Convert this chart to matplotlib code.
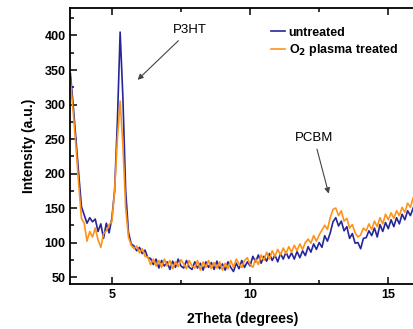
import numpy as np
import matplotlib
matplotlib.use("Agg")
import matplotlib.pyplot as plt

plt.rcParams['font.family'] = ['Liberation Sans', 'DejaVu Sans']

# 2Theta grid (degrees) and intensities
two_theta = np.round(np.arange(3.5, 15.95, 0.1), 1)

untreated = [
    345, 300, 250, 200, 152, 140, 128, 136, 130, 134,
    116, 127, 106, 128, 114, 135, 175, 275, 405, 310,
    175, 115, 98, 95, 88, 93, 84, 89, 78, 77,
    68, 76, 63, 74, 66, 72, 61, 73, 64, 76,
    66, 63, 74, 64, 61, 72, 63, 70, 60, 72,
    64, 71, 61, 73, 62, 69, 60, 72, 64, 58,
    70, 62, 74, 64, 72, 66, 80, 72, 82, 70,
    80, 73, 84, 74, 82, 72, 84, 76, 86, 77,
    85, 76, 87, 78, 88, 81, 94, 86, 98, 90,
    100, 93, 110, 102, 114, 130, 136, 124, 131, 117,
    123, 106, 113, 99, 100, 91, 106, 107, 117, 110,
    121, 108, 126, 116, 129, 120, 133, 123, 136, 127,
    141, 133, 146, 139, 150,
]

plasma = [
    335, 290, 240, 185, 135, 128, 102, 116, 108, 121,
    104, 93, 113, 117, 126, 130, 175, 250, 305, 240,
    150, 108, 96, 91, 95, 85, 91, 80, 79, 68,
    76, 66, 74, 64, 76, 66, 74, 62, 72, 65,
    75, 69, 62, 74, 66, 63, 74, 60, 72, 64,
    74, 62, 71, 63, 72, 60, 70, 62, 74, 64,
    76, 69, 64, 74, 78, 68, 64, 76, 68, 82,
    74, 86, 76, 88, 80, 90, 82, 92, 84, 94,
    86, 96, 88, 98, 90, 100, 105, 99, 110, 102,
    111, 118, 125, 119, 136, 148, 150, 139, 146, 131,
    135, 121, 126, 114, 108, 111, 121, 117, 127, 119,
    131, 123, 136, 127, 141, 133, 143, 135, 146, 139,
    151, 144, 157, 151, 165,
]

fig = plt.figure(figsize=(4.14, 3.29), dpi=100)
ax = fig.add_axes([0.170, 0.137, 0.830, 0.839])

ax.plot(two_theta, untreated, color='#26269a', lw=1.2, label='untreated')
ax.plot(two_theta, plasma, color='#ff9218', lw=1.2, label='O$_\\mathbf{2}$ plasma treated')

ax.set_xlim(3.5, 15.93)
ax.set_ylim(40, 440)
ax.set_xticks([5, 10, 15])
ax.set_xticks([7.5, 12.5], minor=True)
ax.set_yticks(range(50, 401, 50))
ax.set_yticks(range(75, 426, 50), minor=True)
ax.tick_params(which='both', direction='in', top=True, right=False, width=1.1)
ax.tick_params(which='major', length=5, labelsize=9)
ax.tick_params(which='minor', length=3)
for lab in ax.get_xticklabels() + ax.get_yticklabels():
    lab.set_fontweight('bold')
for s in ['left', 'bottom', 'top']:
    ax.spines[s].set_linewidth(1.3)
ax.spines['right'].set_visible(False)

ax.set_xlabel('2Theta (degrees)', fontsize=10, fontweight='bold', labelpad=8)
ax.set_ylabel('Intensity (a.u.)', fontsize=10, fontweight='bold', labelpad=6)

ax.legend(loc='upper left', bbox_to_anchor=(0.566, 0.955), frameon=False,
          handlelength=1.1, handletextpad=0.3, borderpad=0, labelspacing=0.3,
          prop={'weight': 'bold', 'size': 9})

arrow = dict(arrowstyle='-|>', color='#444444', lw=0.8, mutation_scale=8)
ax.annotate('P3HT', xy=(5.86, 333), xytext=(7.81, 408), fontsize=9.5,
            ha='center', va='center', arrowprops=arrow)
ax.annotate('PCBM', xy=(12.87, 167), xytext=(12.31, 252), fontsize=9.5,
            ha='center', va='center', arrowprops=arrow)

fig.savefig('out.png', dpi=100)
